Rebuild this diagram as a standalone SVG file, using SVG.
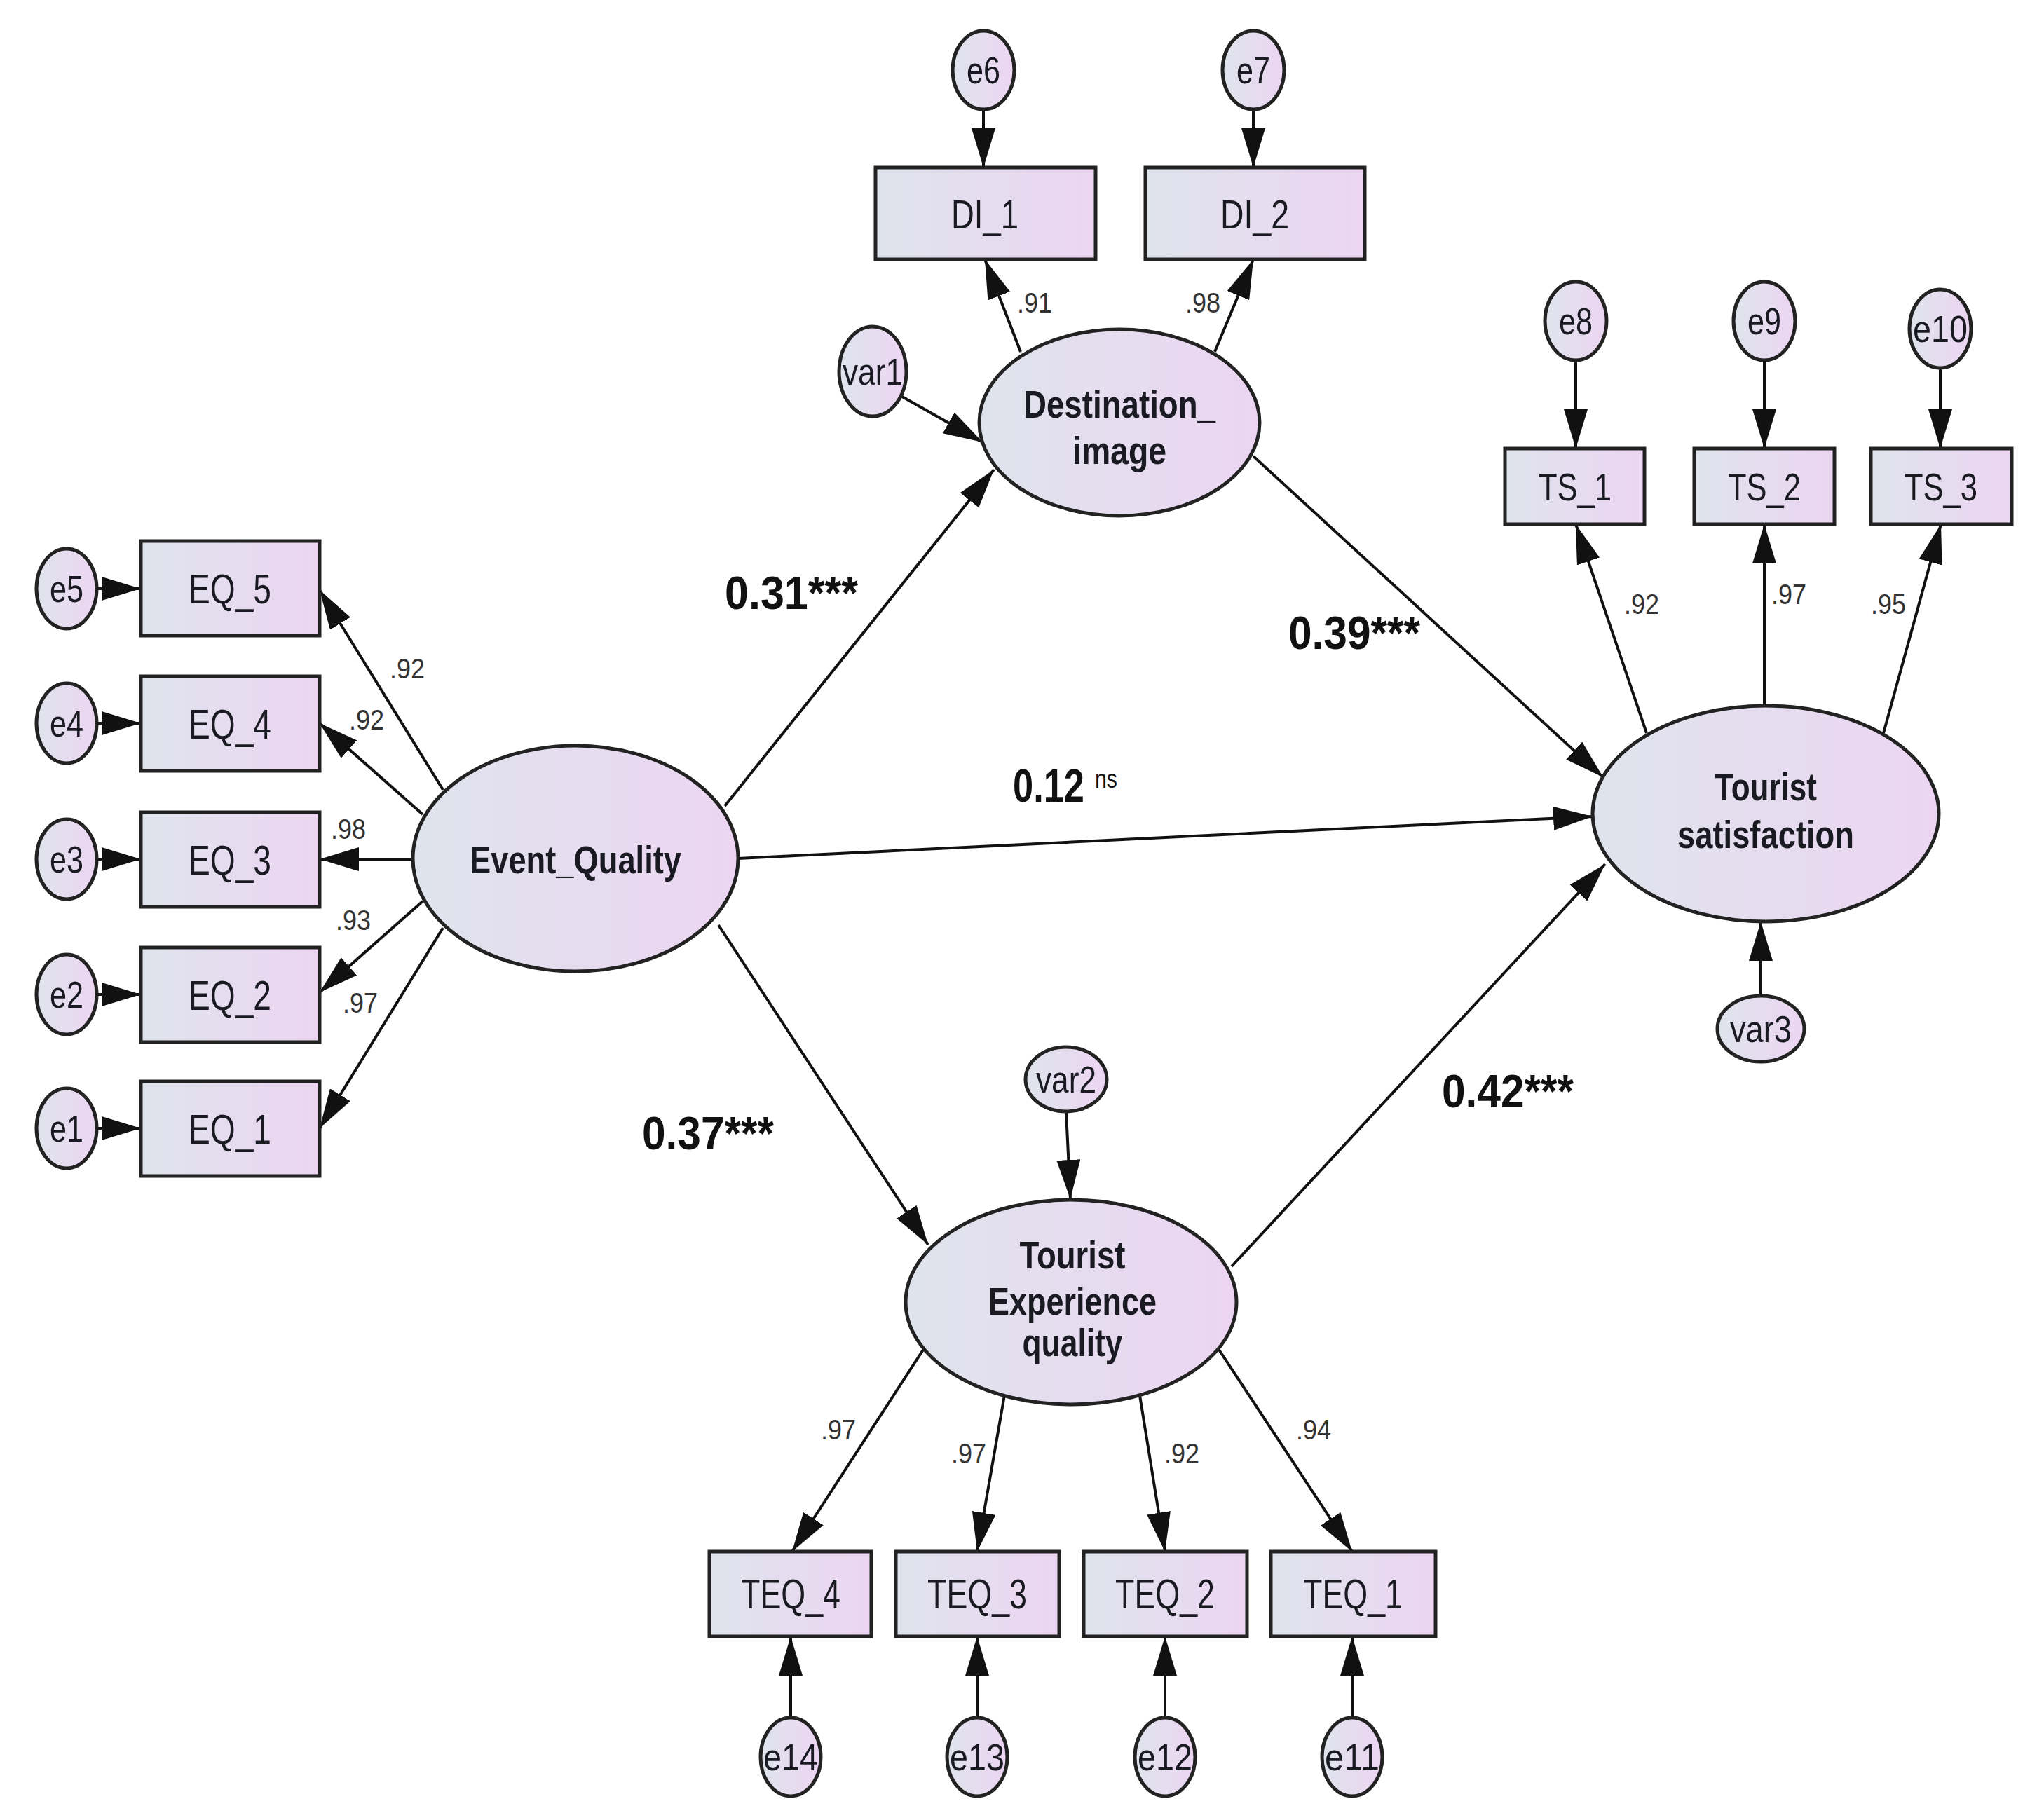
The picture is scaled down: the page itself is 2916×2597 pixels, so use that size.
<svg xmlns="http://www.w3.org/2000/svg" width="2916" height="2597" viewBox="0 0 2916 2597">
<defs>
<linearGradient id="g" x1="0" y1="0" x2="1" y2="0"><stop offset="0" stop-color="#dfe4ec"/><stop offset="1" stop-color="#ecd5f2"/></linearGradient>
<marker id="a" markerUnits="userSpaceOnUse" viewBox="0 0 56 34" refX="56" refY="17" markerWidth="56" markerHeight="34" orient="auto"><path d="M0,0 L56,17 L0,34 z" fill="#111"/></marker>
<style>
.n{fill:url(#g);stroke:#222;stroke-width:5}
.t{font-family:"Liberation Sans",Arial,sans-serif;fill:#1a1a22;text-anchor:middle}
.b{font-weight:bold}
.s{font-family:"Liberation Sans",Arial,sans-serif;fill:#333;font-size:40px;text-anchor:middle}
.c line{stroke:#111;stroke-width:4;marker-end:url(#a)}
.p{font-family:"Liberation Sans",Arial,sans-serif;font-weight:bold;fill:#111;font-size:66px}
</style>
</defs>
<rect width="2916" height="2597" fill="#fff"/>
<g class="c" id="connectors">
<line x1="137" y1="840" x2="201" y2="840"/>
<line x1="137" y1="1032" x2="201" y2="1032"/>
<line x1="137" y1="1226" x2="201" y2="1226"/>
<line x1="137" y1="1419" x2="201" y2="1419"/>
<line x1="137" y1="1610" x2="201" y2="1610"/>
<line x1="632" y1="1127" x2="456" y2="842"/>
<line x1="603" y1="1162" x2="456" y2="1032"/>
<line x1="589" y1="1226" x2="456" y2="1226"/>
<line x1="603" y1="1286" x2="456" y2="1416"/>
<line x1="632" y1="1324" x2="456" y2="1610"/>
<line x1="1403" y1="156" x2="1403" y2="239"/>
<line x1="1788" y1="156" x2="1788" y2="239"/>
<line x1="1456" y1="502" x2="1405" y2="370"/>
<line x1="1733" y1="502" x2="1788" y2="370"/>
<line x1="1287" y1="566" x2="1402" y2="631"/>
<line x1="1034" y1="1150" x2="1418" y2="670"/>
<line x1="1788" y1="651" x2="2287" y2="1109"/>
<line x1="1053" y1="1225" x2="2272" y2="1165"/>
<line x1="1025" y1="1320" x2="1324" y2="1776"/>
<line x1="1757" y1="1807" x2="2290" y2="1233"/>
<line x1="1521" y1="1586" x2="1527" y2="1711"/>
<line x1="1317" y1="1926" x2="1130" y2="2214"/>
<line x1="1434" y1="1985" x2="1394" y2="2214"/>
<line x1="1625" y1="1985" x2="1662" y2="2214"/>
<line x1="1739" y1="1926" x2="1929" y2="2214"/>
<line x1="1128" y1="2451" x2="1128" y2="2335"/>
<line x1="1394" y1="2451" x2="1394" y2="2335"/>
<line x1="1662" y1="2451" x2="1662" y2="2335"/>
<line x1="1929" y1="2451" x2="1929" y2="2335"/>
<line x1="2349" y1="1046" x2="2248" y2="748"/>
<line x1="2517" y1="1008" x2="2517" y2="748"/>
<line x1="2687" y1="1046" x2="2769" y2="748"/>
<line x1="2248" y1="514" x2="2248" y2="640"/>
<line x1="2517" y1="514" x2="2517" y2="640"/>
<line x1="2768" y1="525" x2="2768" y2="640"/>
<line x1="2512" y1="1421" x2="2512" y2="1315"/>
</g>
<g id="labels">
<text class="s" x="581" y="968" textLength="50" lengthAdjust="spacingAndGlyphs">.92</text>
<text class="s" x="523" y="1041" textLength="50" lengthAdjust="spacingAndGlyphs">.92</text>
<text class="s" x="497" y="1197" textLength="50" lengthAdjust="spacingAndGlyphs">.98</text>
<text class="s" x="504" y="1327" textLength="50" lengthAdjust="spacingAndGlyphs">.93</text>
<text class="s" x="514" y="1445" textLength="50" lengthAdjust="spacingAndGlyphs">.97</text>
<text class="s" x="1476" y="446" textLength="50" lengthAdjust="spacingAndGlyphs">.91</text>
<text class="s" x="1716" y="446" textLength="50" lengthAdjust="spacingAndGlyphs">.98</text>
<text class="s" x="2342" y="876" textLength="50" lengthAdjust="spacingAndGlyphs">.92</text>
<text class="s" x="2552" y="862" textLength="50" lengthAdjust="spacingAndGlyphs">.97</text>
<text class="s" x="2694" y="876" textLength="50" lengthAdjust="spacingAndGlyphs">.95</text>
<text class="s" x="1196" y="2054" textLength="50" lengthAdjust="spacingAndGlyphs">.97</text>
<text class="s" x="1382" y="2088" textLength="50" lengthAdjust="spacingAndGlyphs">.97</text>
<text class="s" x="1686" y="2088" textLength="50" lengthAdjust="spacingAndGlyphs">.92</text>
<text class="s" x="1874" y="2054" textLength="50" lengthAdjust="spacingAndGlyphs">.94</text>
<text class="p" x="1034" y="869" textLength="190" lengthAdjust="spacingAndGlyphs">0.31***</text>
<text class="p" x="1838" y="926" textLength="188" lengthAdjust="spacingAndGlyphs">0.39***</text>
<text class="p" x="1445" y="1144" textLength="102" lengthAdjust="spacingAndGlyphs">0.12</text>
<text x="1562" y="1124" font-family="Liberation Sans, Arial, sans-serif" font-size="36" fill="#111" textLength="32" lengthAdjust="spacingAndGlyphs">ns</text>
<text class="p" x="2057" y="1580" textLength="188" lengthAdjust="spacingAndGlyphs">0.42***</text>
<text class="p" x="916" y="1640" textLength="188" lengthAdjust="spacingAndGlyphs">0.37***</text>
</g>
<g id="e5"><ellipse class="n" cx="95" cy="840" rx="43" ry="57"/><text class="t" x="95" y="859" font-size="54" textLength="48" lengthAdjust="spacingAndGlyphs">e5</text></g>
<g id="e4"><ellipse class="n" cx="95" cy="1032" rx="43" ry="57"/><text class="t" x="95" y="1051" font-size="54" textLength="48" lengthAdjust="spacingAndGlyphs">e4</text></g>
<g id="e3"><ellipse class="n" cx="95" cy="1226" rx="43" ry="57"/><text class="t" x="95" y="1245" font-size="54" textLength="48" lengthAdjust="spacingAndGlyphs">e3</text></g>
<g id="e2"><ellipse class="n" cx="95" cy="1419" rx="43" ry="57"/><text class="t" x="95" y="1438" font-size="54" textLength="48" lengthAdjust="spacingAndGlyphs">e2</text></g>
<g id="e1"><ellipse class="n" cx="95" cy="1610" rx="43" ry="57"/><text class="t" x="95" y="1629" font-size="54" textLength="48" lengthAdjust="spacingAndGlyphs">e1</text></g>
<g id="EQ_5"><rect class="n" x="201" y="772" width="255" height="135"/><text class="t" x="328" y="861" font-size="60" textLength="118" lengthAdjust="spacingAndGlyphs">EQ_5</text></g>
<g id="EQ_4"><rect class="n" x="201" y="965" width="255" height="135"/><text class="t" x="328" y="1054" font-size="60" textLength="118" lengthAdjust="spacingAndGlyphs">EQ_4</text></g>
<g id="EQ_3"><rect class="n" x="201" y="1159" width="255" height="135"/><text class="t" x="328" y="1248" font-size="60" textLength="118" lengthAdjust="spacingAndGlyphs">EQ_3</text></g>
<g id="EQ_2"><rect class="n" x="201" y="1352" width="255" height="135"/><text class="t" x="328" y="1441" font-size="60" textLength="118" lengthAdjust="spacingAndGlyphs">EQ_2</text></g>
<g id="EQ_1"><rect class="n" x="201" y="1543" width="255" height="135"/><text class="t" x="328" y="1632" font-size="60" textLength="118" lengthAdjust="spacingAndGlyphs">EQ_1</text></g>
<g id="Event_Quality"><ellipse class="n" cx="821" cy="1225" rx="232" ry="161"/><text class="t b" x="821" y="1246" font-size="56" textLength="302" lengthAdjust="spacingAndGlyphs">Event_Quality</text></g>
<g id="e6"><ellipse class="n" cx="1403" cy="100" rx="44" ry="56"/><text class="t" x="1403" y="119" font-size="54" textLength="48" lengthAdjust="spacingAndGlyphs">e6</text></g>
<g id="e7"><ellipse class="n" cx="1788" cy="100" rx="44" ry="56"/><text class="t" x="1788" y="119" font-size="54" textLength="48" lengthAdjust="spacingAndGlyphs">e7</text></g>
<g id="DI_1"><rect class="n" x="1249" y="239" width="314" height="131"/><text class="t" x="1405" y="326" font-size="58" textLength="96" lengthAdjust="spacingAndGlyphs">DI_1</text></g>
<g id="DI_2"><rect class="n" x="1634" y="239" width="313" height="131"/><text class="t" x="1790" y="326" font-size="58" textLength="98" lengthAdjust="spacingAndGlyphs">DI_2</text></g>
<g id="var1"><ellipse class="n" cx="1245" cy="530" rx="48" ry="64"/><text class="t" x="1245" y="549" font-size="54" textLength="86" lengthAdjust="spacingAndGlyphs">var1</text></g>
<g id="Destination_image"><ellipse class="n" cx="1597" cy="603" rx="200" ry="133"/><text class="t b" x="1597" y="596" font-size="56" textLength="274" lengthAdjust="spacingAndGlyphs">Destination_</text><text class="t b" x="1597" y="662" font-size="56" textLength="134" lengthAdjust="spacingAndGlyphs">image</text></g>
<g id="e8"><ellipse class="n" cx="2248" cy="458" rx="44" ry="56"/><text class="t" x="2248" y="477" font-size="54" textLength="48" lengthAdjust="spacingAndGlyphs">e8</text></g>
<g id="e9"><ellipse class="n" cx="2517" cy="458" rx="44" ry="56"/><text class="t" x="2517" y="477" font-size="54" textLength="48" lengthAdjust="spacingAndGlyphs">e9</text></g>
<g id="e10"><ellipse class="n" cx="2768" cy="469" rx="44" ry="56"/><text class="t" x="2768" y="488" font-size="54" textLength="78" lengthAdjust="spacingAndGlyphs">e10</text></g>
<g id="TS_1"><rect class="n" x="2147" y="640" width="199" height="108"/><text class="t" x="2247" y="714" font-size="56" textLength="104" lengthAdjust="spacingAndGlyphs">TS_1</text></g>
<g id="TS_2"><rect class="n" x="2417" y="640" width="200" height="108"/><text class="t" x="2517" y="714" font-size="56" textLength="104" lengthAdjust="spacingAndGlyphs">TS_2</text></g>
<g id="TS_3"><rect class="n" x="2669" y="640" width="201" height="108"/><text class="t" x="2769" y="714" font-size="56" textLength="104" lengthAdjust="spacingAndGlyphs">TS_3</text></g>
<g id="Tourist_satisfaction"><ellipse class="n" cx="2519" cy="1161" rx="247" ry="154"/><text class="t b" x="2519" y="1142" font-size="56" textLength="146" lengthAdjust="spacingAndGlyphs">Tourist</text><text class="t b" x="2519" y="1210" font-size="56" textLength="252" lengthAdjust="spacingAndGlyphs">satisfaction</text></g>
<g id="var3"><ellipse class="n" cx="2512" cy="1468" rx="62" ry="47"/><text class="t" x="2512" y="1487" font-size="54" textLength="88" lengthAdjust="spacingAndGlyphs">var3</text></g>
<g id="var2"><ellipse class="n" cx="1521" cy="1540" rx="58" ry="46"/><text class="t" x="1521" y="1559" font-size="54" textLength="86" lengthAdjust="spacingAndGlyphs">var2</text></g>
<g id="Tourist_Experience_quality"><ellipse class="n" cx="1528" cy="1858" rx="236" ry="146"/><text class="t b" x="1530" y="1810" font-size="56" textLength="151" lengthAdjust="spacingAndGlyphs">Tourist</text><text class="t b" x="1530" y="1876" font-size="56" textLength="240" lengthAdjust="spacingAndGlyphs">Experience</text><text class="t b" x="1530" y="1935" font-size="56" textLength="143" lengthAdjust="spacingAndGlyphs">quality</text></g>
<g id="TEQ_4"><rect class="n" x="1012" y="2214" width="231" height="121"/><text class="t" x="1128" y="2295" font-size="60" textLength="142" lengthAdjust="spacingAndGlyphs">TEQ_4</text></g>
<g id="TEQ_3"><rect class="n" x="1278" y="2214" width="233" height="121"/><text class="t" x="1394" y="2295" font-size="60" textLength="142" lengthAdjust="spacingAndGlyphs">TEQ_3</text></g>
<g id="TEQ_2"><rect class="n" x="1546" y="2214" width="233" height="121"/><text class="t" x="1662" y="2295" font-size="60" textLength="142" lengthAdjust="spacingAndGlyphs">TEQ_2</text></g>
<g id="TEQ_1"><rect class="n" x="1813" y="2214" width="235" height="121"/><text class="t" x="1930" y="2295" font-size="60" textLength="142" lengthAdjust="spacingAndGlyphs">TEQ_1</text></g>
<g id="e14"><ellipse class="n" cx="1128" cy="2507" rx="43" ry="56"/><text class="t" x="1128" y="2526" font-size="54" textLength="78" lengthAdjust="spacingAndGlyphs">e14</text></g>
<g id="e13"><ellipse class="n" cx="1394" cy="2507" rx="43" ry="56"/><text class="t" x="1394" y="2526" font-size="54" textLength="78" lengthAdjust="spacingAndGlyphs">e13</text></g>
<g id="e12"><ellipse class="n" cx="1662" cy="2507" rx="43" ry="56"/><text class="t" x="1662" y="2526" font-size="54" textLength="78" lengthAdjust="spacingAndGlyphs">e12</text></g>
<g id="e11"><ellipse class="n" cx="1929" cy="2507" rx="43" ry="56"/><text class="t" x="1929" y="2526" font-size="54" textLength="78" lengthAdjust="spacingAndGlyphs">e11</text></g>
</svg>
